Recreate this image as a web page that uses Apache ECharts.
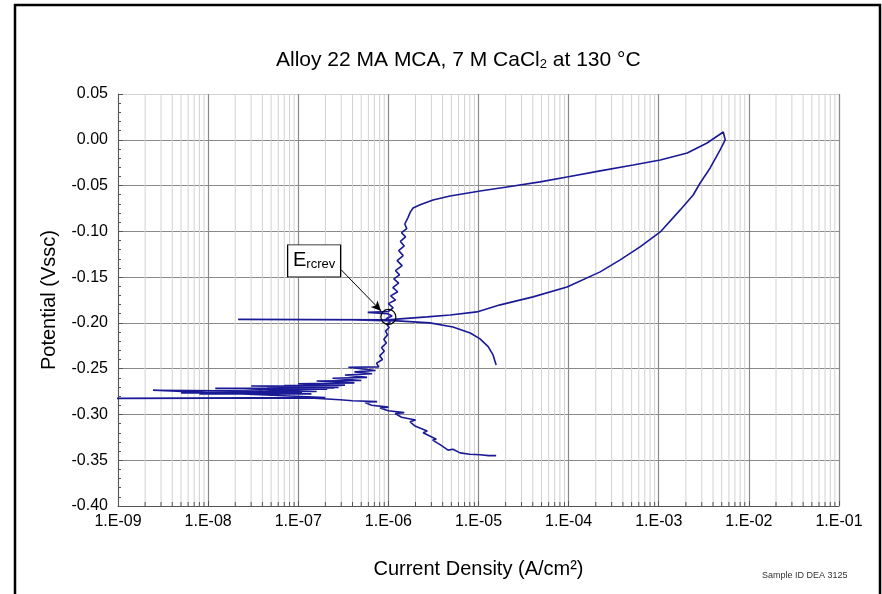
<!DOCTYPE html>
<html>
<head>
<meta charset="utf-8">
<title>Alloy 22 MA MCA cyclic polarization</title>
<script src="https://cdn.jsdelivr.net/npm/echarts@6/dist/echarts.min.js"></script>
<style>
  html, body { margin: 0; padding: 0; background: #fff; }
  #chart { width: 882px; height: 594px; }
</style>
</head>
<body>
<div id="chart"></div>
<script>
// current density (A/cm2), potential (V vs SSC)

// forward scan, cathodic side going up to Ecorr
const cathodicScan = [
  [1.57e-5, -0.345], [1.3e-5, -0.345], [1.04e-5, -0.344], [8e-6, -0.3435], [6.25e-6, -0.342],
  [5.2e-6, -0.338], [4.6e-6, -0.339], [3.75e-6, -0.333], [3.1e-6, -0.328], [3.4e-6, -0.327],
  [2.43e-6, -0.320], [2.7e-6, -0.318], [2.0e-6, -0.313], [1.74e-6, -0.308], [2.0e-6, -0.306],
  [1.4e-6, -0.303], [1.19e-6, -0.299], [1.5e-6, -0.298], [1.0e-6, -0.296], [8.1e-7, -0.293],
  [1.0e-6, -0.292], [6.5e-7, -0.290], [5.5e-7, -0.287], [7.5e-7, -0.286], [4.0e-7, -0.285],
  [2.9e-7, -0.284], [1.35e-7, -0.282], [5e-10, -0.2825]
]

// anodic side, noisy Tafel region and passive plateau
const anodicScan = [
  [2.0e-7, -0.2815], [2.45e-9, -0.2735], [4e-8, -0.2745], [5e-9, -0.2765], [1.1e-7, -0.2765],
  [8e-9, -0.2775], [1.4e-7, -0.2775], [1.6e-8, -0.2745], [1.6e-7, -0.275], [2.5e-8, -0.272],
  [2.1e-7, -0.2725], [1.2e-8, -0.2715], [2.5e-7, -0.271], [4.5e-8, -0.2705], [2.8e-7, -0.2705],
  [3e-8, -0.269], [3.0e-7, -0.2685], [7e-8, -0.2685], [3.3e-7, -0.268], [1.0e-7, -0.2665],
  [4.2e-7, -0.2655], [1.6e-7, -0.2635], [5e-7, -0.263], [2.4e-7, -0.2605], [5.8e-7, -0.2595],
  [3.3e-7, -0.257], [6.6e-7, -0.2555], [4.2e-7, -0.2535], [7.2e-7, -0.252], [3.6e-7, -0.2485],
  [7.8e-7, -0.248], [7.4e-7, -0.244], [8.6e-7, -0.240], [8.0e-7, -0.236], [9.0e-7, -0.231],
  [8.4e-7, -0.227], [9.5e-7, -0.222], [8.9e-7, -0.218], [9.8e-7, -0.213], [9.3e-7, -0.209],
  [1.02e-6, -0.205], [9.6e-7, -0.2015], [1.05e-6, -0.199], [9.4e-7, -0.1955], [1.1e-6, -0.1925],
  [9.8e-7, -0.190], [5.9e-7, -0.1885], [1.0e-6, -0.1875], [1.13e-6, -0.1835], [1.0e-6, -0.179],
  [1.2e-6, -0.175], [1.06e-6, -0.1705], [1.27e-6, -0.166], [1.12e-6, -0.1615], [1.3e-6, -0.1565],
  [1.15e-6, -0.152], [1.33e-6, -0.1475], [1.2e-6, -0.143], [1.42e-6, -0.1375], [1.25e-6, -0.132],
  [1.46e-6, -0.1265], [1.3e-6, -0.121], [1.5e-6, -0.116], [1.36e-6, -0.111], [1.55e-6, -0.106],
  [1.4e-6, -0.1015], [1.6e-6, -0.097], [1.52e-6, -0.092], [1.65e-6, -0.085], [1.75e-6, -0.079],
  [1.88e-6, -0.0745]
]

// breakdown up to the reversal potential
const breakdownScan = [
  [2.25e-6, -0.071], [3.13e-6, -0.0657], [4.84e-6, -0.0614], [1.04e-5, -0.0559], [2.07e-5, -0.0515],
  [4.83e-5, -0.046], [9.6e-5, -0.0406], [2.24e-4, -0.034], [5.2e-4, -0.0275], [1.04e-3, -0.022],
  [2.07e-3, -0.0144], [3.44e-3, -0.0035], [5.2e-3, 0.0085]
]

// reverse scan
const reverseScan = [
  [5.46e-3, 0.0], [4.8e-3, -0.0111], [3.72e-3, -0.0308], [2.88e-3, -0.0472], [2.41e-3, -0.0603],
  [1.73e-3, -0.0766], [1.04e-3, -0.1007], [6.2e-4, -0.117], [3.73e-4, -0.1312], [2.24e-4, -0.1443],
  [9.6e-5, -0.1607], [4.03e-5, -0.1716], [1.74e-5, -0.1803], [9.6e-6, -0.188], [4.84e-6, -0.1913],
  [2.69e-6, -0.1934], [1.35e-6, -0.1956], [9.9e-7, -0.1967], [2.15e-8, -0.1962], [3e-7, -0.1966],
  [1.25e-6, -0.1978], [2.9e-6, -0.200], [5.2e-6, -0.2044], [8.1e-6, -0.211], [1.04e-5, -0.2175],
  [1.28e-5, -0.226], [1.45e-5, -0.235], [1.57e-5, -0.2459]
]

// E rcrev callout
const ercrevPoint = [1.0e-6, -0.1935]
const ercrevLabelAt = [1.5e-7, -0.1323]
const ercrevArrow = [[3.0e-7, -0.1421], [8.3e-7, -0.1869]]

const xMin = 1e-9
const xMax = 1e-1
const yMin = -0.40
const yMax = 0.05
const yStep = 0.05

// light grid lines at 2..9 of each decade
const minorX = []
for (let d = -9; d < -1; d++) {
  for (let k = 2; k <= 9; k++) {
    minorX.push(k * Math.pow(10, d))
  }
}

const major = '#8a8a8a'
const minor = '#d2d2d2'
const font = 'Arial, "Liberation Sans", sans-serif'

const chart = echarts.init(document.getElementById('chart'))
chart.setOption({
  animation: false,
  backgroundColor: '#fff',
  textStyle: { fontFamily: font },
  title: [{
    text: '{a|Alloy 22 MA MCA, 7 M CaCl}{b|2}{a| at 130 °C}',
    left: 276,
    top: 50,
    padding: 0,
    textStyle: {
      fontWeight: 'normal',
      rich: {
        a: { fontSize: 21, color: '#000', fontWeight: 'normal', fontFamily: font },
        b: { fontSize: 13, color: '#000', fontWeight: 'normal', fontFamily: font, verticalAlign: 'bottom', padding: [8, 0, 0, 0] }
      }
    }
  }, {
    text: 'Sample ID DEA 3125',
    left: 762,
    top: 571,
    padding: 0,
    textStyle: { fontSize: 9, fontWeight: 'normal', color: '#333', fontFamily: font }
  }],
  graphic: [{
    type: 'rect',
    shape: { x: 15, y: 5, width: 865, height: 600 },
    style: { fill: 'none', stroke: '#000', lineWidth: 2.5 },
    silent: true
  }],
  grid: { left: 118, top: 94, width: 721, height: 412 },
  xAxis: {
    type: 'log',
    logBase: 10,
    min: xMin,
    max: xMax,
    splitNumber: 8,
    name: 'Current Density (A/cm²)',
    nameLocation: 'middle',
    nameGap: 53,
    nameTextStyle: { fontSize: 20, color: '#000' },
    axisLine: { onZero: false, lineStyle: { color: '#555', width: 1 } },
    axisTick: { show: true, inside: true, length: 5, lineStyle: { color: '#555' } },
    axisLabel: {
      fontSize: 16,
      color: '#000',
      margin: 8,
      formatter: v => {
        const e = Math.round(Math.log10(v))
        return '1.E-' + String(-e).padStart(2, '0')
      }
    },
    splitLine: { show: true, lineStyle: { color: [major, major, major, major, major, major, major, major, minor], width: 1.2 } }
  },
  yAxis: {
    type: 'value',
    min: yMin,
    max: yMax,
    interval: yStep,
    name: 'Potential (Vssc)',
    nameLocation: 'middle',
    nameGap: 59,
    nameTextStyle: { fontSize: 20, color: '#000' },
    axisLine: { show: true, onZero: false, lineStyle: { color: '#555', width: 1 } },
    axisTick: { show: true, inside: true, length: 5, lineStyle: { color: '#555' } },
    minorTick: { show: true, splitNumber: 5, length: 3, lineStyle: { color: '#555' } },
    axisLabel: {
      fontSize: 16,
      color: '#000',
      margin: 10,
      formatter: v => (Math.abs(v) < 1e-9 ? 0 : v).toFixed(2)
    },
    splitLine: { show: true, lineStyle: { color: [major, major, major, major, major, major, major, major, major, minor], width: 1.2 } }
  },
  series: [{
    // minor vertical grid, one line per 2..9 step, plus a short tick on the x axis
    type: 'custom',
    silent: true,
    z: 1,
    data: minorX.map(x => [x, yMin, yMax]),
    encode: { x: 0, y: [1, 2] },
    renderItem: (params, api) => {
      const p0 = api.coord([api.value(0), api.value(1)])
      const p1 = api.coord([api.value(0), api.value(2)])
      return {
        type: 'group',
        children: [{
          type: 'line',
          shape: { x1: p0[0], y1: p0[1], x2: p1[0], y2: p1[1] },
          style: { stroke: minor, lineWidth: 1 }
        }, {
          type: 'line',
          shape: { x1: p0[0], y1: p0[1], x2: p0[0], y2: p0[1] - 4 },
          style: { stroke: '#555', lineWidth: 1 }
        }]
      }
    }
  }, {
    name: 'scan',
    type: 'line',
    showSymbol: false,
    symbol: 'none',
    z: 3,
    lineStyle: { color: '#1a1a96', width: 1.6 },
    data: cathodicScan.concat(anodicScan, breakdownScan, reverseScan)
  }, {
    // callout
    type: 'line',
    data: [],
    silent: true,
    z: 4,
    markLine: {
      silent: true,
      symbol: ['none', 'arrow'],
      symbolSize: [7, 10],
      label: { show: false },
      emphasis: { disabled: true },
      lineStyle: { color: '#000', width: 1, type: 'solid' },
      data: [[{ coord: ercrevArrow[0] }, { coord: ercrevArrow[1] }]]
    },
    markPoint: {
      silent: true,
      data: [{
        coord: ercrevPoint,
        symbol: 'circle',
        symbolSize: 15,
        itemStyle: { color: 'rgba(0,0,0,0)', borderColor: '#000', borderWidth: 1.2 },
        label: { show: false }
      }, {
        coord: ercrevLabelAt,
        symbol: 'rect',
        symbolSize: [53, 32],
        itemStyle: { color: '#fff', borderColor: '#000', borderWidth: 1 },
        label: {
          show: true,
          position: 'inside',
          formatter: '{e|E}{s|rcrev}',
          rich: {
            e: { fontSize: 20, color: '#000', fontFamily: font },
            s: { fontSize: 13, color: '#000', fontFamily: font, verticalAlign: 'bottom', padding: [7, 0, 0, 0] }
          }
        }
      }]
    }
  }]
})
</script>
</body>
</html>
